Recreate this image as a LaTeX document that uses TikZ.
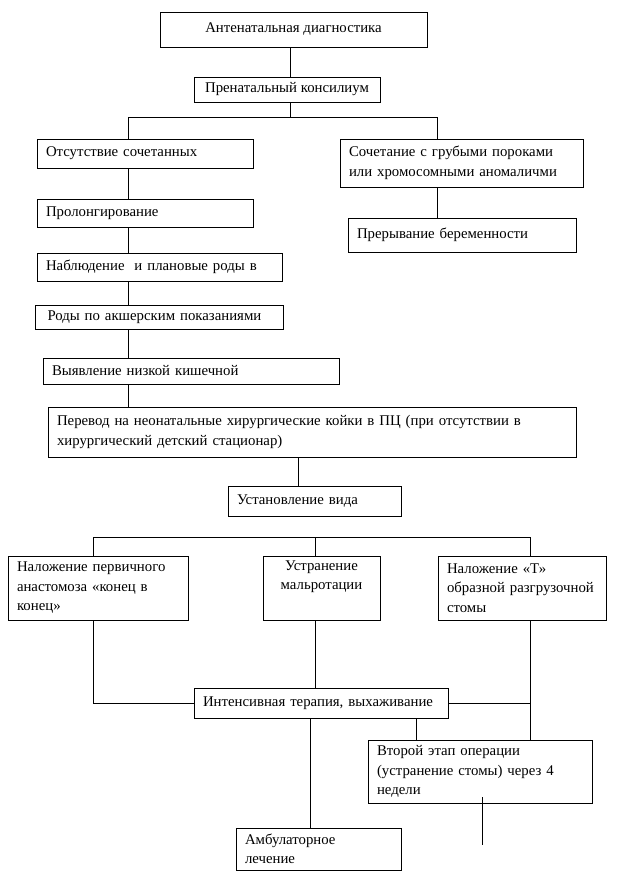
\documentclass[tikz,border=0pt]{standalone}
\usepackage{fontspec}
\setmainfont{Liberation Serif}
\begin{document}
\begin{tikzpicture}[x=1pt,y=-1pt,
  box/.style={draw, line width=0.8pt, inner xsep=9pt, inner ysep=0pt, align=left,
    font=\fontsize{14.8}{19.5}\selectfont},
  cbox/.style={box, align=center},
  link/.style={draw, line width=0.8pt}]
\useasboundingbox (0,0) rectangle (619,885);
% boxes
\node[cbox, minimum width=267pt, minimum height=35pt] (b1) at (293.5,29.5) {Антенатальная диагностика};
\node[cbox, minimum width=186pt, minimum height=25pt] (b2) at (287,89.5) {Пренатальный консилиум};
\node[box, minimum width=216pt, minimum height=29pt, text width=198pt] (b3) at (145,153.5) {Отсутствие сочетанных};
\node[box, minimum width=243pt, minimum height=48pt, text width=225pt] (b4) at (461.5,163) {Сочетание с грубыми пороками\\или хромосомными аномаличми};
\node[box, minimum width=228pt, minimum height=34pt, text width=210pt] (b5) at (462,235) {Прерывание беременности};
\node[box, minimum width=216pt, minimum height=28pt, text width=198pt] (b6) at (145,213) {Пролонгирование};
\node[box, minimum width=245pt, minimum height=28pt, text width=227pt] (b7) at (159.5,267) {Наблюдение~ и плановые роды в};
\node[box, minimum width=245pt, minimum height=24pt, text width=224pt, inner xsep=12pt] (b8) at (159.5,317.5) {Роды по акшерским показаниями};
\node[box, minimum width=296pt, minimum height=26pt, text width=278pt] (b9) at (191,371) {Выявление низкой кишечной};
\node[box, minimum width=528pt, minimum height=50pt, text width=510pt] (b10) at (312,432) {Перевод на неонатальные хирургические койки в ПЦ (при отсутствии в\\хирургический детский стационар)};
\node[box, minimum width=173pt, minimum height=30pt, text width=155pt] (b11) at (314.5,501) {Установление вида};
\node[box, minimum width=180pt, minimum height=64pt, text width=162pt] (b12) at (98,588) {Наложение первичного\\анастомоза «конец в\\конец»};
\node[cbox, minimum width=117pt, minimum height=64pt, text width=99pt] (b13) at (321.5,588) {Устранение\\мальротации\\\strut};
\node[box, minimum width=168pt, minimum height=64pt, text width=150pt] (b14) at (522,588) {Наложение «Т»\\образной разгрузочной\\стомы};
\node[box, minimum width=254pt, minimum height=30pt, text width=236pt] (b15) at (321,703) {Интенсивная терапия, выхаживание};
\node[box, minimum width=224pt, minimum height=63pt, text width=206pt] (b16) at (480,771.5) {Второй этап операции\\(устранение стомы) через 4\\недели};
\node[box, minimum width=165pt, minimum height=42pt, text width=147pt] (b17) at (318.5,849) {Амбулаторное\\лечение};
% junction coordinates
\coordinate (lx) at (290,0);
\coordinate (j1) at (290,117);
\coordinate (cL) at (128,117);
\coordinate (cR) at (437,117);
\coordinate (c2) at (298,0);
\coordinate (s1) at (93,537);
\coordinate (s2) at (315,537);
\coordinate (s3) at (530,537);
\coordinate (c3) at (310,0);
\coordinate (c4) at (416,0);
\coordinate (e1) at (482,797);
\coordinate (e2) at (482,845);
% connectors
\path[link] (b1.south -| lx) -- (b2.north -| lx);
\path[link] (b2.south -| j1) -- (j1);
\path[link] (b3.north -| cL) -- (cL) -- (cR) -- (b4.north -| cR);
\path[link] (b4.south -| cR) -- (b5.north -| cR);
\path[link] (b3.south -| cL) -- (b6.north -| cL);
\path[link] (b6.south -| cL) -- (b7.north -| cL);
\path[link] (b7.south -| cL) -- (b8.north -| cL);
\path[link] (b8.south -| cL) -- (b9.north -| cL);
\path[link] (b9.south -| cL) -- (b10.north -| cL);
\path[link] (b10.south -| c2) -- (b11.north -| c2);
\path[link] (s1) -- (s3);
\path[link] (s1) -- (b12.north -| s1);
\path[link] (s2) -- (b13.north -| s2);
\path[link] (s3) -- (b14.north -| s3);
\path[link] (b12.south -| s1) |- (b15.west);
\path[link] (b13.south -| s2) -- (b15.north -| s2);
\path[link] (b14.south -| s3) -- (b16.north -| s3);
\path[link] (b15.east) -- (b15.east -| s3);
\path[link] (b15.south -| c3) -- (b17.north -| c3);
\path[link] (b15.south -| c4) -- (b16.north -| c4);
\path[link] (e1) -- (e2);
\end{tikzpicture}
\end{document}
